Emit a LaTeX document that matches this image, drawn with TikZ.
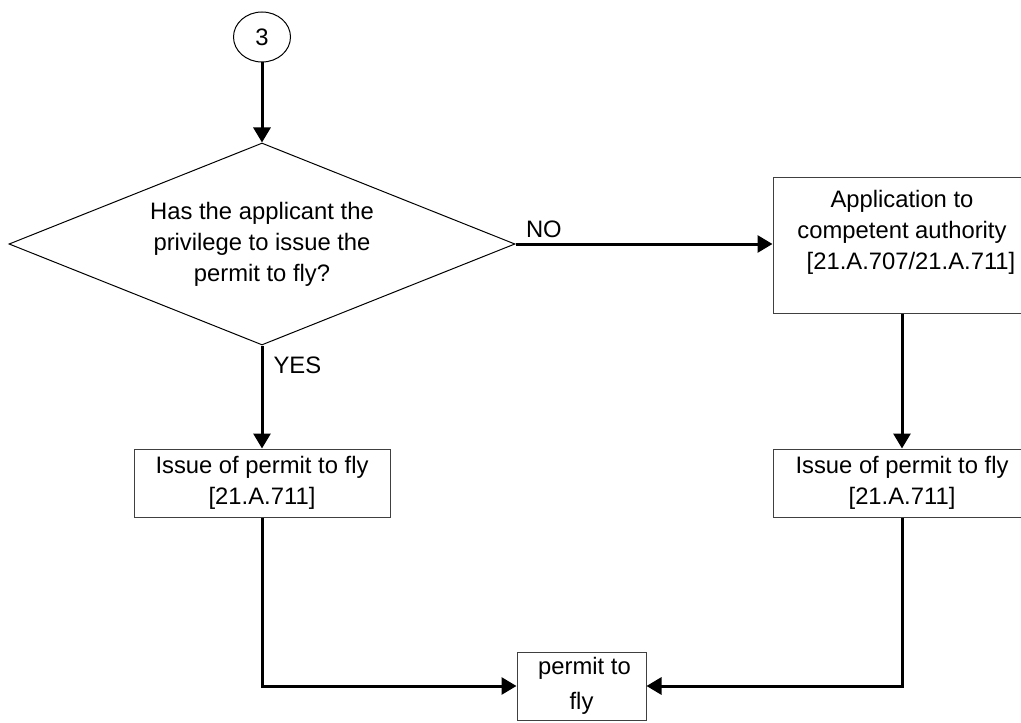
\documentclass[tikz,border=0pt]{standalone}
\usepackage{fontspec}
\setmainfont{Liberation Sans}
\usetikzlibrary{arrows.meta}
\usetikzlibrary{shapes.geometric}
\tikzset{txt/.style = {font = \fontsize{11.9}{15.5}\selectfont}}
\tikzset{box/.style = {draw = black!75, line width = 0.5pt, rectangle, align = center, inner sep = 0}}
\tikzset{flow/.style = {line width = 1.5pt, -{Triangle[length = 7.5pt, width = 8.5pt]}}}

\begin{document}
\begin{tikzpicture}[x = 0.5pt, y = -0.5pt, every node/.style = {txt}]
  \useasboundingbox (0, 0) rectangle (1021, 722);
  \node [ellipse, draw, line width = 0.5pt, minimum width = 28.5pt, minimum height = 25pt, inner sep = 0] (start) at (262, 37) {3};
  \node [diamond, draw, line width = 0.5pt, aspect = 2.5, minimum width = 253pt, minimum height = 101pt, inner sep = 0, align = center] (priv) at (262, 244)
    {Has the applicant the\\privilege to issue the\\permit to fly?};
  \node [box, minimum width = 129pt, minimum height = 68pt] (appl) at (902, 245)
    {Application to\\competent authority\\\hspace*{9pt}[21.A.707/21.A.711]\\\mbox{}};
  \node [box, minimum width = 128pt, minimum height = 34pt] (issL) at (262, 483) {Issue of permit to fly\\{[21.A.711]}};
  \node [box, minimum width = 129pt, minimum height = 34pt] (issR) at (902, 483) {Issue of permit to fly\\{[21.A.711]}};
  \node [box, minimum width = 64.5pt, minimum height = 34pt] (permit) at (581.5, 686) {\hspace*{3pt}permit to\\[2pt]fly};

  \draw [flow] (start) -- (priv);
  \draw [flow] (priv.east) -- (priv.east -| appl.west)
    node [pos = 0, above right, inner sep = 2.5pt, xshift = 2pt] {NO};
  \draw [flow] (priv.south) -- (issL.north)
    node [pos = 0, below right, inner sep = 3pt, xshift = 2pt, yshift = -2pt] {YES};
  \draw [flow] (appl.south) -- (issR.north);
  \draw [flow] (issL.south) |- (permit.west);
  \draw [flow] (issR.south) |- (permit.east);
\end{tikzpicture}
\end{document}
